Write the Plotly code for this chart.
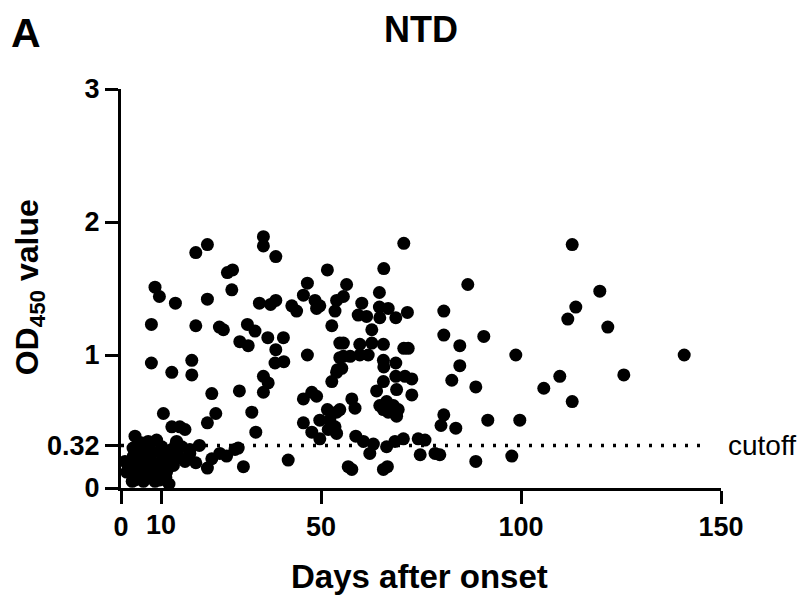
import plotly.graph_objects as go

# ---- data ----
DAYS = [
    # early cluster
    1.4, 1.8, 3.1, 3.5, 2.8, 4.7, 5.2, 5.6, 6.8, 7.3, 7.7, 8.9, 8.9, 9.7, 8.5, 11.0, 11.4, 11.2,
    12.7, 13.1, 13.9, 14.3, 15.2, 16.0, 17.2, 3.5, 2.2, 4.2, 6.2, 10.2, 6.5, 10.5, 13.8, 2.5, 4.0,
    7.0, 9.8, 12.0, 3.0, 5.0, 8.0, 6.0, 10.0, 4.5, 7.5, 9.0, 12.3, 1.0,
    # days 7-45
    8.5, 9.6, 7.6, 7.6, 12.7, 10.6, 13.6, 14.7, 12.7, 16.0, 17.7, 17.7, 18.7, 21.6, 18.7, 21.6,
    22.7, 23.7, 21.6, 19.6, 18.7, 21.6, 22.7, 24.7, 26.4, 28.5, 29.3, 30.6, 17.2, 24.6, 25.6,
    26.6, 27.9, 27.7, 31.6, 33.5, 29.7, 31.8, 29.6, 32.7, 33.7, 35.6, 35.6, 38.7, 34.6, 37.4,
    38.7, 36.7, 40.6, 38.7, 38.5, 40.7, 35.6, 36.8, 35.6, 41.8, 42.7, 43.9,
    # days 45-55
    45.6, 46.6, 51.6, 48.5, 48.9, 49.7, 53.9, 53.5, 52.7, 46.6, 45.6, 47.7, 48.9, 52.7, 54.1,
    45.6, 47.7, 49.7, 49.7, 51.6, 52.2, 53.5, 51.8, 53.9, 53.9, 54.7, 54.7, 53.9, 54.7,
    # days 55-80
    56.4, 55.6, 64.6, 60.2, 59.3, 61.4, 64.6, 66.8, 64.7, 68.7, 71.6, 62.7, 70.7, 65.7, 55.6,
    59.7, 62.7, 65.6, 70.7, 71.8, 55.6, 57.3, 59.7, 61.8, 55.2, 65.6, 65.7, 68.7, 68.7, 72.7,
    65.6, 63.9, 68.9, 72.7, 57.7, 58.5, 64.7, 66.4, 68.1, 69.3, 66.8, 68.9, 65.6, 58.7, 60.6,
    63.1, 62.2, 66.4, 68.5, 70.6, 74.3, 76.0, 74.8, 78.5, 56.8, 57.7, 65.6, 66.6, 71.0,
    # days 80+
    86.7, 80.7, 80.7, 84.7, 90.7, 98.7, 84.7, 82.7, 88.7, 80.7, 80.0, 83.7, 91.7, 99.7, 88.7,
    97.7, 79.7, 112.8, 119.7, 113.7, 111.7, 121.7, 140.8, 109.7, 105.7, 125.7, 112.8,
]
OD450 = [
    0.12, 0.17, 0.24, 0.06, 0.05, 0.29, 0.16, 0.05, 0.35, 0.22, 0.11, 0.36, 0.16, 0.06, 0.05, 0.21, 0.12, 0.08,
    0.29, 0.17, 0.35, 0.24, 0.31, 0.20, 0.26, 0.39, 0.20, 0.10, 0.27, 0.31, 0.14, 0.24, 0.34, 0.15, 0.21,
    0.30, 0.14, 0.03, 0.30, 0.34, 0.27, 0.09, 0.20, 0.20, 0.17, 0.10, 0.24, 0.20,
    1.51, 1.44, 1.23, 0.94, 0.87, 0.56, 1.39, 0.46, 0.46, 0.44, 0.96, 0.85, 1.77, 1.83, 1.22, 1.42,
    0.71, 0.56, 0.49, 0.32, 0.19, 0.15, 0.22, 0.26, 0.24, 0.29, 0.30, 0.16, 0.29, 1.21, 1.19,
    1.62, 1.64, 1.49, 1.23, 1.18, 1.10, 1.07, 0.73, 0.57, 0.42, 1.89, 1.82, 1.74, 1.39, 1.38,
    1.41, 1.13, 1.13, 1.04, 0.94, 0.95, 0.84, 0.79, 0.72, 0.21, 1.37, 1.33,
    1.45, 1.54, 1.64, 1.41, 1.35, 1.37, 1.41, 1.33, 1.22, 1.00, 0.67, 0.72, 0.69, 0.80, 0.89,
    0.49, 0.42, 0.37, 0.51, 0.59, 0.51, 0.46, 0.44, 0.41, 0.57, 1.09, 0.98, 0.87, 0.59,
    1.53, 1.44, 1.47, 1.39, 1.30, 1.29, 1.36, 1.35, 1.28, 1.28, 1.32, 1.19, 1.84, 1.65, 1.09,
    1.08, 1.09, 1.08, 1.05, 1.05, 0.99, 0.99, 1.00, 1.00, 0.90, 0.96, 0.91, 0.94, 0.84, 0.82,
    0.80, 0.73, 0.74, 0.70, 0.67, 0.60, 0.62, 0.65, 0.62, 0.59, 0.57, 0.54, 0.59, 0.39, 0.35,
    0.33, 0.26, 0.31, 0.35, 0.37, 0.37, 0.36, 0.25, 0.26, 0.16, 0.14, 0.14, 0.16, 0.84,
    1.53, 1.33, 1.15, 1.07, 1.14, 1.00, 0.92, 0.81, 0.76, 0.55, 0.47, 0.45, 0.51, 0.51, 0.20,
    0.24, 0.25, 1.83, 1.48, 1.36, 1.27, 1.21, 1.00, 0.84, 0.75, 0.85, 0.65,
]
CUTOFF = 0.32
CUTOFF_END = 147
X_TICKS = [0, 50, 100, 150]
X_TICK_TEXT = ["0", "50", "100", "150"]
X_EXTRA_TICK = 10
Y_TICKS = [0, 0.32, 1, 2, 3]
Y_TICK_TEXT = ["0", "0.32", "1", "2", "3"]

FONT = "Liberation Sans, Arial, sans-serif"

# page body has an 8px margin: the figure is drawn starting at (8, 8)
W, H = 803, 587

fig = go.Figure()
fig.add_trace(go.Scatter(
    x=DAYS, y=OD450, mode="markers",
    marker=dict(size=13, color="black", line=dict(width=0)),
    cliponaxis=False, showlegend=False, hoverinfo="x+y",
))

fig.add_shape(type="line", xref="x", yref="y", x0=0, x1=CUTOFF_END, y0=CUTOFF, y1=CUTOFF,
              line=dict(color="black", width=3.5, dash="3px,9px"), layer="below")

axis_common = dict(
    showline=True, linecolor="black", linewidth=3, showgrid=False, zeroline=False,
    ticks="outside", ticklen=13, tickwidth=3, tickcolor="black",
    tickfont=dict(family=FONT, size=27, color="black", weight="bold"),
)
fig.update_xaxes(range=[0, 150], tickmode="array", tickvals=X_TICKS, ticktext=X_TICK_TEXT,
                 minor=dict(tickmode="array", tickvals=[X_EXTRA_TICK], ticks="outside",
                            ticklen=13, tickwidth=3, tickcolor="black", showgrid=False),
                 **axis_common)
fig.update_yaxes(range=[0, 3], tickmode="array", tickvals=Y_TICKS, ticktext=Y_TICK_TEXT,
                 **axis_common)

fig.update_layout(
    width=W, height=H,
    margin=dict(l=113, r=90, t=81, b=107),
    paper_bgcolor="white", plot_bgcolor="white",
    title=dict(text="<b>NTD</b>", x=0.5, xref="paper", xanchor="center",
               y=1 - 21 / H, yref="container", yanchor="middle",
               font=dict(family=FONT, size=36, color="black")),
    annotations=[
        dict(text="<b>A</b>", xref="paper", yref="paper", x=-0.187, y=1.14,
             xanchor="left", yanchor="middle", showarrow=False,
             font=dict(family=FONT, size=41, color="black")),
        dict(text="<b>%d</b>" % X_EXTRA_TICK, xref="x", yref="paper", x=X_EXTRA_TICK, y=-0.093,
             xanchor="center", yanchor="middle", showarrow=False,
             font=dict(family=FONT, size=27, color="black")),
        dict(text="cutoff", xref="paper", yref="y", x=1.008, y=CUTOFF,
             xanchor="left", yanchor="middle", showarrow=False,
             font=dict(family=FONT, size=28, color="black")),
        dict(text="<b>Days after onset</b>", xref="paper", yref="paper", x=0.498, y=-0.223,
             xanchor="center", yanchor="middle", showarrow=False,
             font=dict(family=FONT, size=33, color="black")),
        dict(text="<b>OD<sub>450</sub> value</b>", xref="paper", yref="paper", x=-0.151, y=0.504,
             xanchor="center", yanchor="middle", showarrow=False, textangle=-90,
             font=dict(family=FONT, size=32, color="black")),
    ],
)

fig.write_html("out.html")
